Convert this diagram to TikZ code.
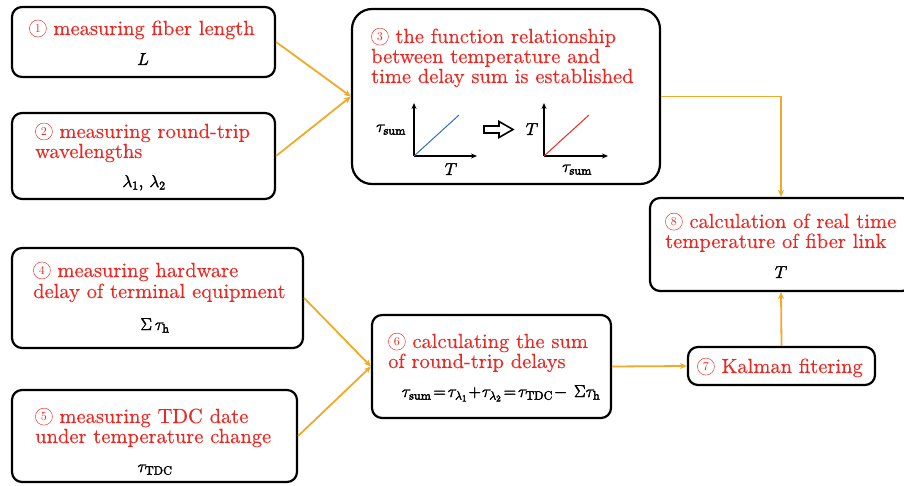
\documentclass[tikz,border=0pt]{standalone}
\usepackage{fontspec}
\setmainfont{lmroman10-regular}[Extension=.otf]
\newfontfamily\lblfont{lmroman10-regular}[Extension=.otf, FakeBold=0.3]
\usetikzlibrary{arrows.meta}
\definecolor{tred}{RGB}{236,40,35}
\definecolor{torange}{RGB}{240,170,40}
\definecolor{tblue}{RGB}{50,110,190}
\newcommand{\cn}[1]{\tikz[baseline=-2.5pt]{\node[circle, draw, line width=0.45pt, minimum size=17pt, inner sep=0pt, font=\rmfamily\fontsize{12}{12}\selectfont] {#1};}}
\newcommand{\thk}[1]{\special{pdf:literal direct 2 Tr 0.35 w}#1\special{pdf:literal direct 0 Tr 1 w}}
\begin{document}
\begin{tikzpicture}[x=1pt,y=-1pt,
  box/.style={draw, line width=2.2pt, rounded corners=10pt, inner sep=0pt},
  lbl/.style={text=tred, anchor=base west, inner sep=0pt, font=\lblfont\fontsize{20.5}{24}\selectfont},
  mth/.style={anchor=base, inner sep=0pt, font=\fontsize{17.5}{21}\selectfont},
  conn/.style={draw=torange, line width=1.8pt, -{Stealth[length=7pt,width=6pt]}},
  axis/.style={line width=1.2pt, -{Stealth[length=6pt,width=5pt]}}]
\useasboundingbox (0,0) rectangle (904,486);
% boxes
\node[box, minimum width=263pt, minimum height=70pt] (b1) at (143.5,42) {};
\node[box, minimum width=263pt, minimum height=86pt] (b2) at (143.5,156) {};
\node[box, minimum width=308pt, minimum height=175pt, rounded corners=20pt] (b3) at (506,96.5) {};
\node[box, minimum width=291pt, minimum height=100pt] (b4) at (157.5,298) {};
\node[box, minimum width=285pt, minimum height=92pt] (b5) at (154.5,436) {};
\node[box, minimum width=239pt, minimum height=103pt] (b6) at (491.5,366.5) {};
\node[box, minimum width=187pt, minimum height=38pt] (b7) at (781.5,366) {};
\node[box, minimum width=262pt, minimum height=93pt] (b8) at (781,244.5) {};
% texts
\node[lbl] (t1) at (29,35) {\cn{1} measuring fiber length};
\node[mth] (m1) at (143,65) {\thk{$L$}};
\node[lbl] (t2a) at (35,138) {\cn{2} measuring round-trip};
\node[lbl] (t2b) at (35,158) {wavelengths};
\node[mth] (m2) at (144,187) {\thk{$\lambda_1$, $\lambda_2$}};
\node[lbl] (t3a) at (371,43) {\cn{3} the function relationship};
\node[lbl] (t3b) at (371,63) {between temperature and};
\node[lbl] (t3c) at (371,83) {time delay sum is established};
\node[lbl] (t4a) at (33,277) {\cn{4} measuring hardware};
\node[lbl] (t4b) at (33,298) {delay of terminal equipment};
\node[mth] (m4) at (155,330) {\thk{$\Sigma\,\tau_{\mathrm{h}}$}};
\node[lbl] (t5a) at (35,423) {\cn{5} measuring TDC date};
\node[lbl] (t5b) at (35,443) {under temperature change};
\node[mth] (m5) at (155,472) {\thk{$\tau_{\mathrm{TDC}}$}};
\node[lbl] (t6a) at (388,348) {\cn{6} calculating the sum};
\node[lbl] (t6b) at (388,368) {of round-trip delays};
\node[mth] (m6) at (501,397) {\thk{$\tau_{\mathrm{sum}}\!=\!\tau_{\lambda_1}\!+\!\tau_{\lambda_2}\!=\!\tau_{\mathrm{TDC}}\!-\,\Sigma\tau_{\mathrm{h}}$}};
\node[lbl, anchor=base] (t7) at (780,373) {\cn{7} Kalman fitering};
\node[lbl] (t8a) at (665,228) {\cn{8} calculation of real time};
\node[lbl] (t8b) at (665,248) {temperature of fiber link};
\node[mth] (m8) at (781,278) {\thk{$T$}};
% graphs in box 3
\coordinate (o1) at (414,156);
\coordinate (y1) at (414,103);
\coordinate (x1) at (477,156);
\coordinate (e1) at (459,115);
\draw[axis] (o1) -- (y1);
\draw[axis] (o1) -- (x1);
\draw[tblue, line width=1pt] (o1) -- (e1);
\node[mth] (g1y) at (391,132) {\thk{$\tau_{\mathrm{sum}}$}};
\node[mth] (g1x) at (451,175) {\thk{$T$}};
\coordinate (o2) at (544,156);
\coordinate (y2) at (544,103);
\coordinate (x2) at (608,156);
\coordinate (e2) at (589,115);
\draw[axis] (o2) -- (y2);
\draw[axis] (o2) -- (x2);
\draw[tred, line width=1pt] (o2) -- (e2);
\node[mth] (g2y) at (532,135) {\thk{$T$}};
\node[mth] (g2x) at (577,172) {\thk{$\tau_{\mathrm{sum}}$}};
\draw[line width=1.6pt, line join=miter] (484,126) -- (499,126) -- (499,121.5) -- (513,129.5) -- (499,137.5) -- (499,133) -- (484,133) -- cycle;
% connectors
\draw[conn] (b1.east) -- (b3.west);
\draw[conn] (b2.east) -- (b3.west);
\draw[conn] (b3.east) -| (b8.north);
\draw[conn] (b4.east) -- (b6.west);
\draw[conn] (b5.east) -- (b6.west);
\draw[conn] (b6.east) -- (b7.west);
\draw[conn] (b7.north) -- (b8.south);
\end{tikzpicture}
\end{document}
